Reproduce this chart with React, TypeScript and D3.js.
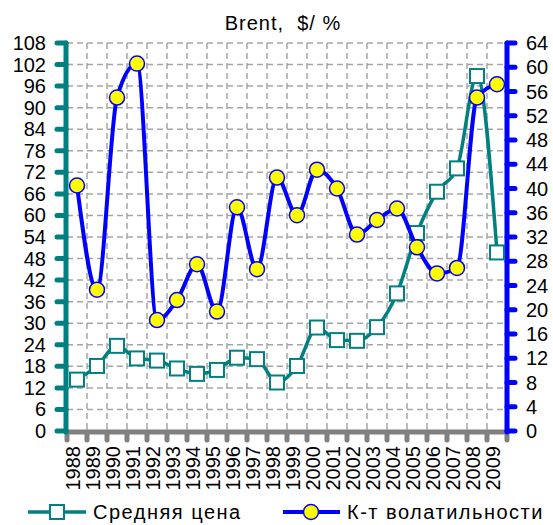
import React from 'react';
import * as d3 from 'd3';

const years = ['1988', '1989', '1990', '1991', '1992', '1993', '1994', '1995', '1996', '1997', '1998',
  '1999', '2000', '2001', '2002', '2003', '2004', '2005', '2006', '2007', '2008', '2009'];
// Средняя цена, $
const price = [14.3, 18.1, 23.7, 20.2, 19.6, 17.4, 15.9, 17.0, 20.4, 20.0, 13.5,
  18.1, 28.8, 25.3, 25.1, 28.9, 38.3, 55.1, 66.6, 73.1, 98.8, 49.7];
// К-т волатильности, %
const volatility = [40.5, 23.3, 55.0, 60.6, 18.3, 21.6, 27.5, 19.7, 36.9, 26.7, 41.8,
  35.6, 43.1, 40.0, 32.4, 34.8, 36.7, 30.3, 26.0, 26.9, 55.0, 57.2];
const leftTicks = [0, 6, 12, 18, 24, 30, 36, 42, 48, 54, 60, 66, 72, 78, 84, 90, 96, 102, 108];
const rightTicks = [0, 4, 8, 12, 16, 20, 24, 28, 32, 36, 40, 44, 48, 52, 56, 60, 64];

const W = 553, H = 525;
const TEAL = '#008080', BLUE = '#0000ff', GREY = '#808080';
const FONT = 'Liberation Sans, Arial, sans-serif';

export default function App() {
  const x = d3.scaleBand<string>().domain(years).range([67, 507]);
  const yL = d3.scaleLinear().domain([0, 108]).range([431, 43]);
  const yR = d3.scaleLinear().domain([0, 64]).range([431, 43]);
  const cx = (i: number) => (x(years[i]) as number) + x.bandwidth() / 2;

  const priceLine = d3.line<number>()
    .x((_, i) => cx(i)).y(d => yL(d))
    .curve(d3.curveMonotoneX);
  const volLine = d3.line<number>()
    .x((_, i) => cx(i)).y(d => yR(d))
    .curve(d3.curveMonotoneX);

  const bounds = years.map(y => x(y) as number).concat([507]);

  return (
    <svg width={W} height={H} style={{ position: 'absolute', left: 0, top: 0, background: '#fff' }}
      fontFamily={FONT}>
      {/* grid */}
      <g stroke="#a6a6a6" strokeWidth={1.5} strokeDasharray="6,4">
        {leftTicks.filter(t => t > 0).map(t => (
          <line key={'h' + t} x1={67} x2={507} y1={yL(t)} y2={yL(t)} />
        ))}
        {bounds.slice(1, -1).map((b, i) => (
          <line key={'v' + i} x1={b} x2={b} y1={43} y2={431} />
        ))}
      </g>

      {/* title */}
      <text x={283} y={30} textAnchor="middle" fontSize={20} letterSpacing={1}
        style={{ whiteSpace: 'pre' }}>Brent,  $/ %</text>

      {/* x axis */}
      <g stroke={GREY} strokeWidth={5} strokeLinecap="round">
        <line x1={67} x2={507} y1={432} y2={432} />
        {bounds.map((b, i) => <line key={i} x1={b} x2={b} y1={432} y2={440} />)}
      </g>
      {years.map((yr, i) => (
        <text key={yr} transform={`translate(${cx(i) + 3},446) rotate(-90)`} textAnchor="end"
          fontSize={20}>{yr}</text>
      ))}

      {/* left axis */}
      <g stroke={TEAL} strokeWidth={5} strokeLinecap="round">
        <line x1={66} x2={66} y1={43} y2={432} />
        {leftTicks.map(t => <line key={t} x1={57} x2={66} y1={yL(t)} y2={yL(t)} />)}
      </g>
      {leftTicks.map(t => (
        <text key={t} x={46} y={yL(t)} dy="0.35em" textAnchor="end" fontSize={20}>{t}</text>
      ))}

      {/* right axis */}
      <g stroke={BLUE} strokeWidth={5} strokeLinecap="round">
        <line x1={507} x2={507} y1={43} y2={432} />
        {rightTicks.map(t => <line key={t} x1={507} x2={515} y1={yR(t)} y2={yR(t)} />)}
      </g>
      {rightTicks.map(t => (
        <text key={t} x={526} y={yR(t)} dy="0.35em" textAnchor="start" fontSize={20}>{t}</text>
      ))}

      {/* price series */}
      <path d={priceLine(price) as string} fill="none" stroke={TEAL} strokeWidth={3.5} />
      {price.map((v, i) => (
        <rect key={i} x={cx(i) - 7} y={yL(v) - 7} width={14} height={14} fill="#fff"
          stroke={TEAL} strokeWidth={2} />
      ))}

      {/* volatility series */}
      <path d={volLine(volatility) as string} fill="none" stroke={BLUE} strokeWidth={4} />
      {volatility.map((v, i) => (
        <circle key={i} cx={cx(i)} cy={yR(v)} r={7.5} fill="#ffff00" stroke={BLUE} strokeWidth={1.5} />
      ))}

      {/* legend */}
      <g>
        <line x1={28} x2={86} y1={512} y2={512} stroke={TEAL} strokeWidth={3.5} />
        <rect x={50} y={505} width={14} height={14} fill="#fff" stroke={TEAL} strokeWidth={2} />
        <text x={93} y={512} dy="0.35em" fontSize={20} letterSpacing={1.5}>Средняя цена</text>
        <line x1={283} x2={340} y1={512} y2={512} stroke={BLUE} strokeWidth={4} />
        <circle cx={311} cy={512} r={7.5} fill="#ffff00" stroke={BLUE} strokeWidth={1.5} />
        <text x={347} y={512} dy="0.35em" fontSize={20} letterSpacing={1.5}>К-т волатильности</text>
      </g>
    </svg>
  );
}
